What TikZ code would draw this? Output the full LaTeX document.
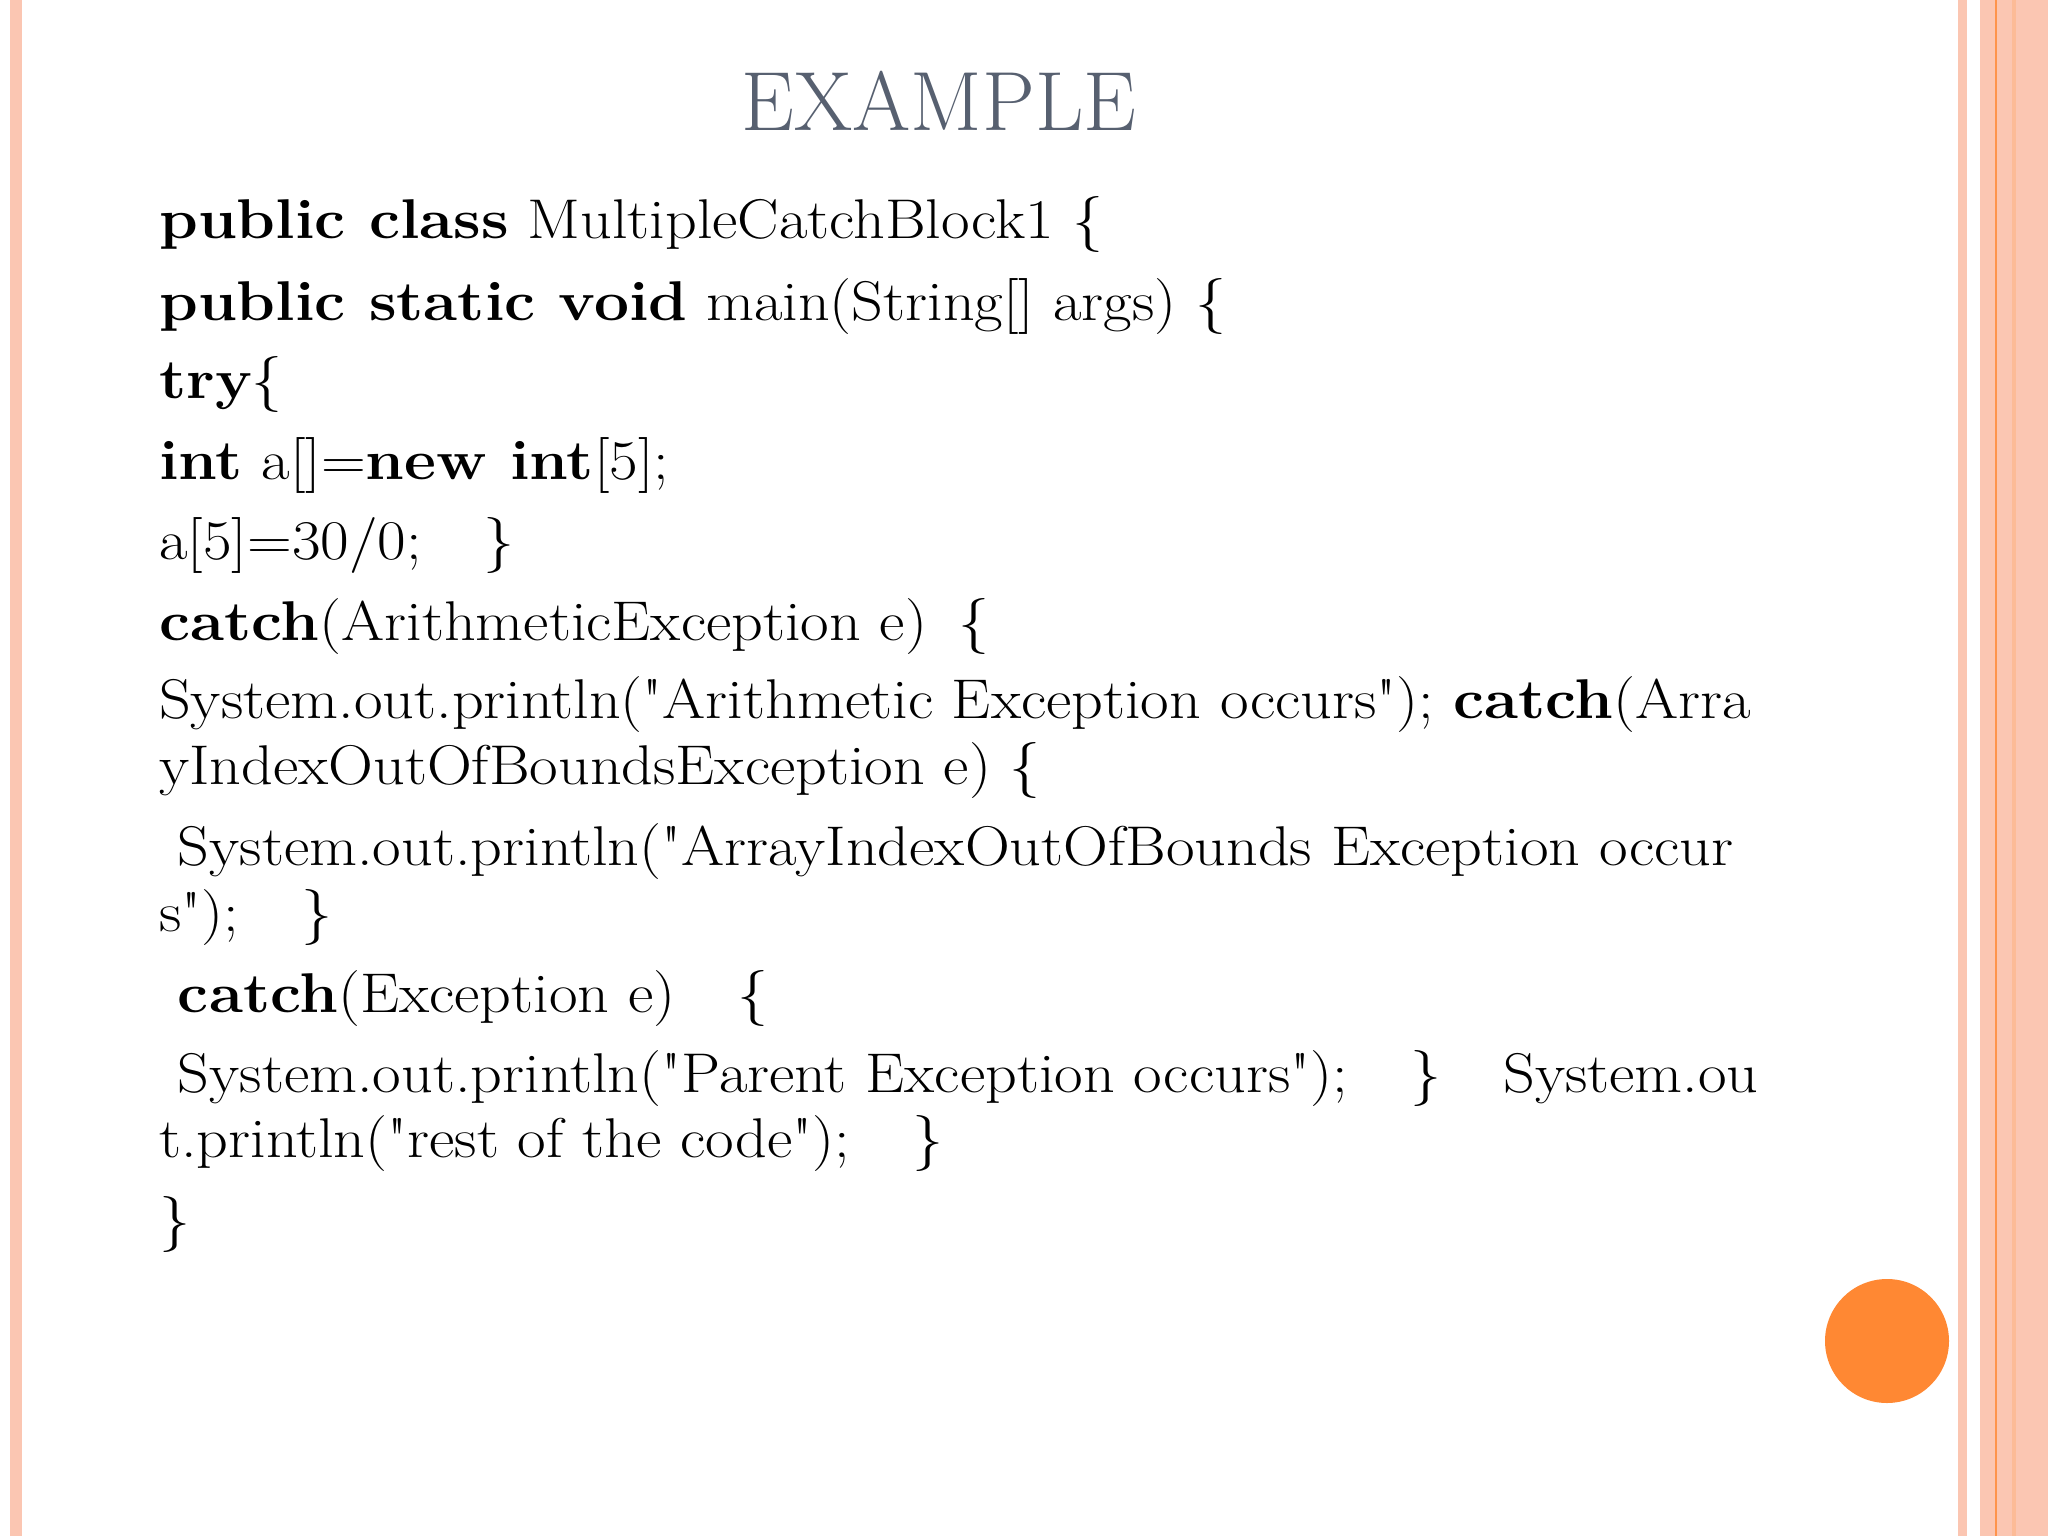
\documentclass[tikz,border=0pt]{standalone}
\usepackage{fontspec}
\definecolor{stripe}{HTML}{FBC6B2}
\definecolor{dot}{HTML}{FF8833}
\definecolor{titlec}{HTML}{576070}
\newcommand{\qq}{\textquotedbl}
\newcommand{\cl}[1]{\scalebox{1.11}[1]{#1}}
\tikzset{code/.style={anchor=base west,inner sep=0pt,font=\fontsize{56}{60}\selectfont}}
\begin{document}
\begin{tikzpicture}[x=1pt,y=-1pt]
\useasboundingbox (0,0) rectangle (2048,1536);
\fill[white] (0,0) rectangle (2048,1536);
\fill[stripe] (10,0) rectangle (22,1536);
\fill[stripe] (1958,0) rectangle (1967,1536);
\fill[stripe] (1980,0) rectangle (2048,1536);
\fill[stripe!85!orange] (2012,0) rectangle (2016,1536);
\draw[dot!80!stripe,line width=1.5pt] (1996,0) -- (1996,1536);
\fill[dot] (1887,1341) circle (62);
\node[anchor=base,inner sep=0pt,text=titlec,font=\fontsize{84}{90}\selectfont] (title) at (939,131) {EXAMPLE};
\node[code] (l1) at (159,238) {\cl{\textbf{public class} MultipleCatchBlock1 \{}};
\node[code] (l2) at (159,320) {\cl{\textbf{public static void} main(String[] args) \{}};
\node[code] (l3) at (159,398) {\cl{\textbf{try}\{}};
\node[code] (l4) at (159,479) {\cl{\textbf{int} a[]=\textbf{new int}[5];}};
\node[code] (l5) at (159,559) {\cl{a[5]=30/0;\quad \}}};
\node[code] (l6) at (159,640) {\cl{\textbf{catch}(ArithmeticException e)\enspace \{}};
\node[code] (l7) at (159,718) {\cl{System.out.println(\qq Arithmetic Exception occurs\qq); \textbf{catch}(Arra}};
\node[code] (l8) at (159,784) {\cl{yIndexOutOfBoundsException e) \{}};
\node[code] (l9) at (159,865) {\cl{\ System.out.println(\qq ArrayIndexOutOfBounds Exception occur}};
\node[code] (l10) at (159,931) {\cl{s\qq);\quad \}}};
\node[code] (l11) at (159,1012) {\cl{\ \textbf{catch}(Exception e)\quad \{}};
\node[code] (l12) at (159,1092) {\cl{\ System.out.println(\qq Parent Exception occurs\qq);\quad \}\quad System.ou}};
\node[code] (l13) at (159,1157) {\cl{t.println(\qq rest of the code\qq);\quad \}}};
\node[code] (l14) at (159,1238) {\cl{\}}};
\end{tikzpicture}
\end{document}
